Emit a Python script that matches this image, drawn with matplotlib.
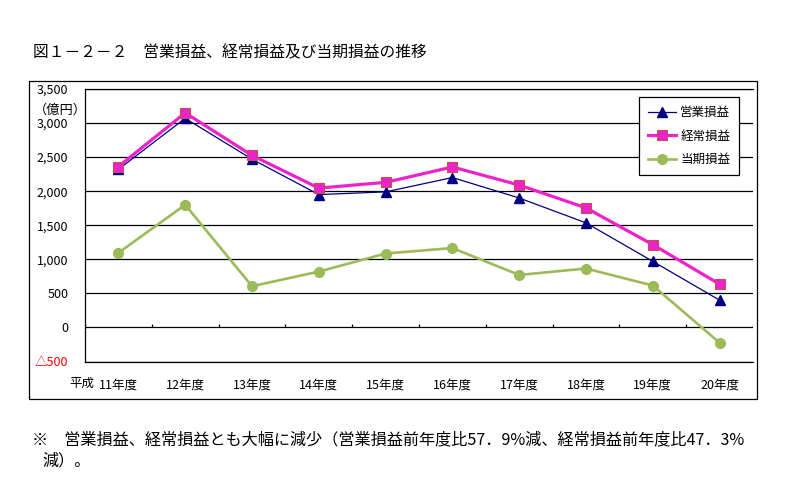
import matplotlib
matplotlib.use('Agg')
import matplotlib.pyplot as plt
import numpy as np

plt.rcParams['font.family'] = ['Noto Sans CJK JP', 'DejaVu Sans']

# data (億円)
years = ['11年度', '12年度', '13年度', '14年度', '15年度', '16年度', '17年度', '18年度', '19年度', '20年度']
eigyo = [2320, 3070, 2470, 1950, 1990, 2200, 1900, 1535, 970, 400]      # 営業損益
keijo = [2360, 3150, 2525, 2045, 2130, 2355, 2090, 1755, 1215, 635]     # 経常損益
touki = [1095, 1800, 605, 820, 1085, 1165, 770, 865, 615, -225]         # 当期損益

yticks = [-500, 0, 500, 1000, 1500, 2000, 2500, 3000, 3500]
ytick_labels = ['△500', '0', '500', '1,000', '1,500', '2,000', '2,500', '3,000', '3,500']

fig = plt.figure(figsize=(7.91, 4.84), dpi=100)

# outer frame around the chart
frame = plt.Rectangle((29 / 791, 1 - 399 / 484), (757 - 29) / 791, (399 - 81) / 484,
                      transform=fig.transFigure, fill=False, edgecolor='black', linewidth=0.9)
fig.patches.append(frame)

ax = fig.add_axes([85 / 791, 1 - 361.5 / 484, (753 - 85) / 791, (361.5 - 89) / 484])
x = np.arange(len(years))

ax.plot(x, eigyo, color='#000080', linewidth=0.9, marker='^', markersize=6.5,
        markerfacecolor='#000080', markeredgecolor='#000080', label='営業損益', zorder=3)
ax.plot(x, keijo, color='#EE22CC', linewidth=2.3, marker='s', markersize=7.5,
        markerfacecolor='#EE22CC', markeredgecolor='#C0504D', markeredgewidth=0.8,
        label='経常損益', zorder=4)
ax.plot(x, touki, color='#9BBB59', linewidth=1.9, marker='o', markersize=7,
        markerfacecolor='#9BBB59', markeredgecolor='#9BBB59', label='当期損益', zorder=3)

ax.set_xlim(-0.5, len(years) - 0.5)
ax.set_ylim(yticks[0], yticks[-1])
ax.set_yticks(yticks)
ax.set_yticklabels(ytick_labels, fontsize=9)
ax.get_yticklabels()[0].set_color('red')
ax.tick_params(axis='y', length=0, pad=12)

ax.set_xticks(x)
ax.set_xticklabels(years, fontsize=9)
ax.tick_params(axis='x', length=0, pad=12)

ax.grid(axis='y', color='black', linewidth=0.9)
ax.set_axisbelow(True)
ax.spines['right'].set_visible(False)
for s in ['left', 'top', 'bottom']:
    ax.spines[s].set_linewidth(0.9)

# category boundary ticks on the zero line
ax.vlines(np.arange(len(years) + 1) - 0.5, 0, 45, color='black', linewidth=0.9)

leg = ax.legend(loc='upper right', bbox_to_anchor=(0.979, 0.970), fontsize=9,
                frameon=True, fancybox=False, edgecolor='black', framealpha=1,
                handlelength=2.3, labelspacing=0.85, borderpad=0.7, handletextpad=0.3,
                borderaxespad=0)
leg.get_frame().set_linewidth(0.9)

fig.text(60 / 791, 1 - 110 / 484, '（億円）', ha='center', va='center', fontsize=9.5)
fig.text(82 / 791, 1 - 383 / 484, '平成', ha='center', va='center', fontsize=9)

fig.text(33 / 791, 1 - 53 / 484, '図１－２－２　営業損益、経常損益及び当期損益の推移',
         ha='left', va='center', fontsize=11.3)
fig.text(32 / 791, 1 - 440 / 484,
         '※　営業損益、経常損益とも大幅に減少（営業損益前年度比57．9%減、経常損益前年度比47．3%',
         ha='left', va='center', fontsize=11.6)
fig.text(42 / 791, 1 - 461 / 484, '減）。', ha='left', va='center', fontsize=11.6)

fig.savefig('out.png', dpi=100)
